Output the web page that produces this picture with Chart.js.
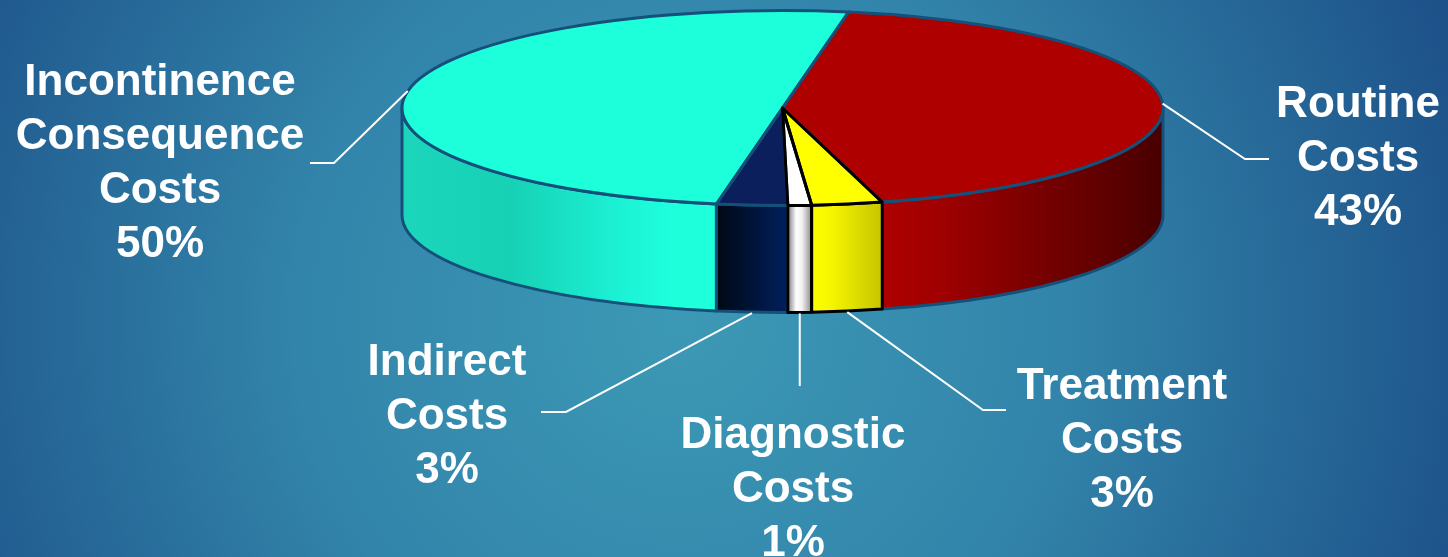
<!DOCTYPE html>
<html>
<head>
<meta charset="utf-8">
<title>Cost breakdown</title>
<script src="https://cdn.jsdelivr.net/npm/chart.js@4.4.1/dist/chart.umd.min.js"></script>
<style>
  html, body { margin: 0; padding: 0; overflow: hidden; background: #2a6f9c; }
  canvas { display: block; }
</style>
</head>
<body>
<canvas id="chart" width="1448" height="557"></canvas>
<script>
// slices, clockwise from the top
const categories = ['Routine Costs', 'Treatment Costs', 'Diagnostic Costs', 'Indirect Costs', 'Incontinence Consequence Costs'];
const shares = [43, 3, 1, 3, 50];

// colours of the top faces, the side walls (left -> right) and the edges
const topColors = ['#AF0000', '#FFFF00', '#FFFFFF', '#0B1F5C', '#1DFFDB'];
const wallStops = [
    [[0, '#AE0000'], [0.2, '#A00000'], [1, '#480000']],
    [[0, '#FFFF00'], [0.3, '#F4F400'], [1, '#C6C400']],
    [[0, '#7A7A7A'], [0.35, '#FFFFFF'], [0.6, '#F0F0F0'], [1, '#8A8A8A']],
    [[0, '#000814'], [1, '#00205E']],
    [[0, '#1BD6BB'], [0.35, '#17D1B5'], [0.7, '#1CF2D5'], [0.85, '#1EFFDC'], [1, '#1EFFDC']]
];
const edgeColors = ['#145079', '#000000', '#000000', '#145079', '#145079'];

// where the tilted pie sits on the page
const PIE = {cx: 782.5, cy: 108, rx: 380.5, ry: 97.5, depth: 107};

// leader line elbows and label blocks, same order as categories
const callouts = [
    {elbow: [1245, 159], end: 1269, textX: 1358, textY: 117},
    {elbow: [983, 410], end: 1006, textX: 1122, textY: 399},
    {drop: 386, textX: 793, textY: 448},
    {elbow: [566, 412], end: 541, textX: 447, textY: 375},
    {elbow: [334, 163], end: 310, textX: 160, textY: 95}
];
const LINE_GAP = 54;

const TWO_PI = Math.PI * 2;

// part of [s, e] that faces the viewer (0..PI), or null
function frontRange(s, e) {
    for (let k = -2; k <= 2; k++) {
        const lo = Math.max(s, TWO_PI * k);
        const hi = Math.min(e, Math.PI + TWO_PI * k);
        if (hi > lo) return [lo - TWO_PI * k, hi - TWO_PI * k];
    }
    return null;
}

function toEllipse(ctx, arc) {
    const r = arc.outerRadius;
    ctx.translate(PIE.cx, PIE.cy);
    ctx.scale(PIE.rx / r, PIE.ry / r);
    ctx.translate(-arc.x, -arc.y);
}

function wallPath(ctx, range) {
    const [lo, hi] = range;
    ctx.beginPath();
    ctx.ellipse(PIE.cx, PIE.cy, PIE.rx, PIE.ry, 0, lo, hi, false);
    ctx.ellipse(PIE.cx, PIE.cy + PIE.depth, PIE.rx, PIE.ry, 0, hi, lo, true);
    ctx.closePath();
}

const pie3d = {
    id: 'pie3d',
    beforeDraw(chart) {
        const ctx = chart.ctx;
        const g = ctx.createRadialGradient(680, 320, 0, 680, 320, 860);
        g.addColorStop(0, '#3C99B5');
        g.addColorStop(0.45, '#3284AA');
        g.addColorStop(1, '#1B4D86');
        ctx.save();
        ctx.fillStyle = g;
        ctx.fillRect(0, 0, chart.width, chart.height);
        ctx.restore();
    },
    beforeDatasetsDraw(chart) {
        const ctx = chart.ctx;
        const arcs = chart.getDatasetMeta(0).data;
        // side walls
        const order = [4, 0, 3, 2, 1];
        order.forEach(i => {
            const range = frontRange(arcs[i].startAngle, arcs[i].endAngle);
            if (!range) return;
            const xl = PIE.cx + PIE.rx * Math.cos(range[1]);
            const xr = PIE.cx + PIE.rx * Math.cos(range[0]);
            const g = ctx.createLinearGradient(xl, 0, xr, 0);
            wallStops[i].forEach(s => g.addColorStop(s[0], s[1]));
            ctx.save();
            wallPath(ctx, range);
            ctx.fillStyle = g;
            ctx.fill();
            ctx.lineWidth = 3;
            ctx.lineJoin = 'round';
            ctx.strokeStyle = edgeColors[i];
            ctx.stroke();
            ctx.restore();
        });
        // tilt the top face
        ctx.save();
        toEllipse(ctx, arcs[0]);
    },
    afterDatasetsDraw(chart) {
        const ctx = chart.ctx;
        ctx.restore();
        const arcs = chart.getDatasetMeta(0).data;

        // top face edges, black ones last
        const order = [4, 0, 3, 2, 1];
        order.forEach(i => {
            const a = arcs[i];
            ctx.save();
            toEllipse(ctx, a);
            ctx.beginPath();
            ctx.moveTo(a.x, a.y);
            ctx.arc(a.x, a.y, a.outerRadius, a.startAngle, a.endAngle);
            ctx.closePath();
            ctx.restore();
            ctx.save();
            ctx.lineWidth = 3;
            ctx.lineJoin = 'round';
            ctx.strokeStyle = edgeColors[i];
            ctx.stroke();
            ctx.restore();
        });

        // leader lines and labels
        ctx.save();
        ctx.strokeStyle = '#FFFFFF';
        ctx.lineWidth = 2;
        ctx.fillStyle = '#FFFFFF';
        ctx.font = 'bold 44px "Liberation Sans", Arial, sans-serif';
        ctx.textAlign = 'center';
        ctx.textBaseline = 'alphabetic';
        arcs.forEach((a, i) => {
            const mid = (a.startAngle + a.endAngle) / 2;
            const ax = PIE.cx + PIE.rx * Math.cos(mid);
            let ay = PIE.cy + PIE.ry * Math.sin(mid);
            if (Math.sin(mid) > 0.5) ay += PIE.depth + 1;
            const c = callouts[i];
            ctx.beginPath();
            ctx.moveTo(ax, ay);
            if (c.drop) {
                ctx.lineTo(ax, c.drop);
            } else {
                ctx.lineTo(c.elbow[0], c.elbow[1]);
                ctx.lineTo(c.end, c.elbow[1]);
            }
            ctx.stroke();
            const lines = categories[i].split(' ').concat(shares[i] + '%');
            lines.forEach((t, k) => ctx.fillText(t, c.textX, c.textY + k * LINE_GAP));
        });
        ctx.restore();
    }
};

new Chart(document.getElementById('chart'), {
    type: 'pie',
    data: {
        labels: categories,
        datasets: [{
            data: shares,
            backgroundColor: topColors,
            borderWidth: 0,
            clip: false
        }]
    },
    options: {
        responsive: false,
        animation: false,
        rotation: 10,
        events: [],
        plugins: {
            legend: {display: false},
            tooltip: {enabled: false}
        }
    },
    plugins: [pie3d]
});
</script>
</body>
</html>
